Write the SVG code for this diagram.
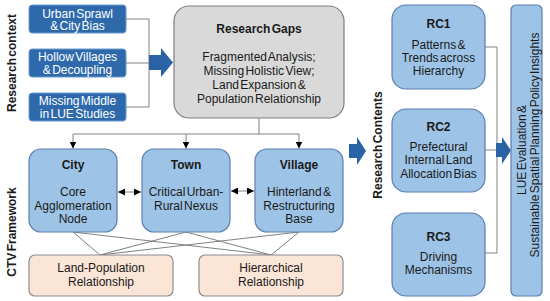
<svg xmlns="http://www.w3.org/2000/svg" width="550" height="301" viewBox="0 0 550 301">
<defs>
<marker id="ah" viewBox="0 0 10 10" refX="10" refY="5" markerWidth="7" markerHeight="7" markerUnits="userSpaceOnUse" orient="auto-start-reverse"><path d="M0,0 L10,5 L0,10 z" fill="#000"/></marker>
<style>
text{font-family:"Liberation Sans",Arial,sans-serif;font-size:12px;fill:#1a1a1a;text-anchor:middle;word-spacing:-2px}
.b{font-weight:bold}
.w{fill:#fff}
.ctx{fill:#2e6aab;stroke:#6b9ad0;stroke-width:1}
.gap{fill:#d9d9d9;stroke:#7f7f7f;stroke-width:1.2}
.lb{fill:#9dc3e6;stroke:#5a7fae;stroke-width:1.2}
.pk{fill:#fbe5d6;stroke:#8c8c8c;stroke-width:1.2}
.ln{fill:none;stroke:#808080;stroke-width:1}
.ar{fill:#2a62a6}
.lab{font-weight:bold;dominant-baseline:central}
</style>
</defs>

<text class="lab" transform="translate(12,63) rotate(-90)">Research context</text>
<text class="lab" transform="translate(12,232) rotate(-90)">CTV Framework</text>
<text class="lab" transform="translate(378,145) rotate(-90)">Research Contents</text>

<g id="connectors">
<path class="ln" d="M126,19 H149 V107 H126 M126,63 H149"/>
<path class="ar" d="M149,55 H161 V48 L173,62.5 L161,77 V70 H149 z"/>
<path class="ln" d="M259,118 V134 M73,134 H299"/>
<line class="ln" x1="73" y1="134" x2="73" y2="148.5" marker-end="url(#ah)"/>
<line class="ln" x1="186" y1="134" x2="186" y2="148.5" marker-end="url(#ah)"/>
<line class="ln" x1="299" y1="134" x2="299" y2="148.5" marker-end="url(#ah)"/>
<line class="ln" x1="118" y1="192" x2="141" y2="192" marker-start="url(#ah)" marker-end="url(#ah)"/>
<line class="ln" x1="231" y1="191" x2="254" y2="191" marker-start="url(#ah)" marker-end="url(#ah)"/>
<path class="ln" d="M73,232 L100,255 M186,232 L100,255 M299,232 L100,255 M73,232 L271,255 M186,232 L271,255 M299,232 L271,255"/>
<path class="ar" d="M349,144 H357 V137 L366,151 L357,165 V158 H349 z"/>
<path class="ln" d="M485,47 H497 V253 H485 M485,150 H497"/>
<path class="ar" d="M496,143 H502 V137 L511,150.5 L502,164 V157 H496 z"/>
</g>

<g id="ctx1"><rect class="ctx" x="29" y="5" width="97" height="28" rx="3"/><text class="w" x="77.5" y="17.5">Urban Sprawl</text><text class="w" x="77.5" y="30">&amp; City Bias</text></g>
<g id="ctx2"><rect class="ctx" x="29" y="49" width="97" height="28" rx="3"/><text class="w" x="77.5" y="61">Hollow Villages</text><text class="w" x="77.5" y="74">&amp; Decoupling</text></g>
<g id="ctx3"><rect class="ctx" x="29" y="93" width="97" height="28" rx="3"/><text class="w" x="77.5" y="105">Missing Middle</text><text class="w" x="77.5" y="118">in LUE Studies</text></g>

<g id="gaps"><rect class="gap" x="174" y="6" width="170" height="112" rx="15"/>
<text class="b" x="259" y="33">Research Gaps</text>
<text x="259" y="61">Fragmented Analysis;</text>
<text x="259" y="75">Missing Holistic View;</text>
<text x="259" y="89">Land Expansion &amp;</text>
<text x="259" y="103">Population Relationship</text></g>

<g id="city"><rect class="lb" x="29" y="149" width="88" height="83" rx="12"/>
<text class="b" x="73" y="169">City</text><text x="73" y="196">Core</text><text x="73" y="209.5">Agglomeration</text><text x="73" y="223">Node</text></g>
<g id="town"><rect class="lb" x="142" y="149" width="88" height="83" rx="12"/>
<text class="b" x="186" y="169">Town</text><text x="186" y="196">Critical Urban-</text><text x="186" y="209.5">Rural Nexus</text></g>
<g id="village"><rect class="lb" x="255" y="149" width="88" height="83" rx="12"/>
<text class="b" x="299" y="169">Village</text><text x="299" y="196">Hinterland &amp;</text><text x="299" y="209.5">Restructuring</text><text x="299" y="223">Base</text></g>

<g id="landpop"><rect class="pk" x="29" y="255" width="144" height="41" rx="6"/><text x="101" y="272">Land-Population</text><text x="101" y="286">Relationship</text></g>
<g id="hier"><rect class="pk" x="199" y="255" width="144" height="41" rx="6"/><text x="271" y="272">Hierarchical</text><text x="271" y="286">Relationship</text></g>

<g id="rc1"><rect class="lb" x="392" y="5" width="93" height="84" rx="14"/>
<text class="b" x="438.5" y="28">RC1</text><text x="438.5" y="49">Patterns &amp;</text><text x="438.5" y="61.5">Trends across</text><text x="438.5" y="75">Hierarchy</text></g>
<g id="rc2"><rect class="lb" x="392" y="109" width="93" height="83" rx="14"/>
<text class="b" x="438.5" y="131">RC2</text><text x="438.5" y="151">Prefectural</text><text x="438.5" y="164">Internal Land</text><text x="438.5" y="178">Allocation Bias</text></g>
<g id="rc3"><rect class="lb" x="392" y="213" width="93" height="83" rx="14"/>
<text class="b" x="438.5" y="241">RC3</text><text x="438.5" y="261">Driving</text><text x="438.5" y="273.5">Mechanisms</text></g>

<g id="lue"><rect class="lb" x="511" y="5" width="31" height="291" rx="5"/>
<text transform="translate(522,150) rotate(-90)" style="dominant-baseline:central">LUE Evaluation &amp;</text>
<text transform="translate(535,145) rotate(-90)" style="dominant-baseline:central">Sustainable Spatial Planning Policy Insights</text></g>
</svg>
